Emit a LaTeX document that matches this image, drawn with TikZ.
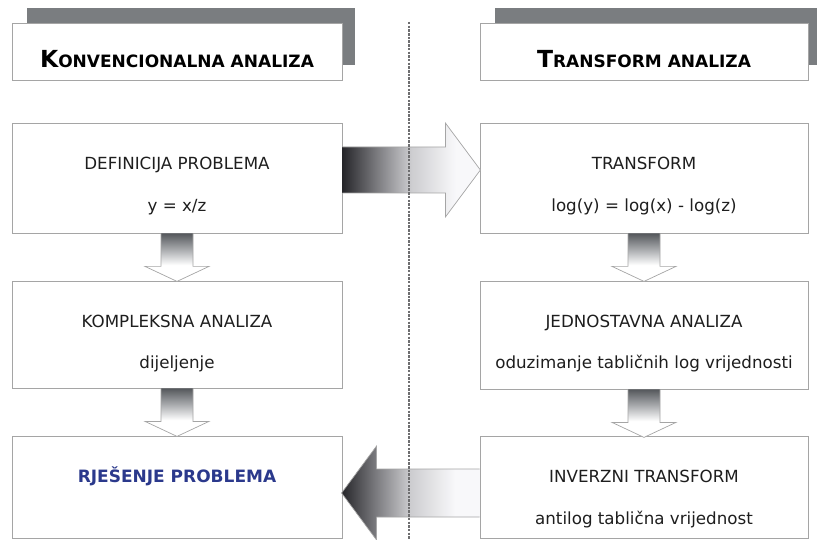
\documentclass[tikz,border=0pt]{standalone}
\usepackage{fontspec}
\setmainfont{DejaVu Sans}
\usetikzlibrary{calc}
\definecolor{boxline}{RGB}{165,165,165}
\definecolor{shadowgray}{RGB}{122,125,128}
\definecolor{txt}{RGB}{30,30,30}
\definecolor{solblue}{RGB}{43,57,140}
\definecolor{hdark}{RGB}{38,38,42}
\definecolor{hmid}{RGB}{120,120,124}
\definecolor{hlight}{RGB}{205,205,208}
\definecolor{hwhite}{RGB}{248,248,250}
\definecolor{vdark}{RGB}{85,88,92}
\definecolor{vmid}{RGB}{170,172,175}
\definecolor{dashgray}{RGB}{110,110,112}
\pgfdeclarehorizontalshading{arrH}{100bp}{color(0bp)=(hdark); color(25bp)=(hdark); color(37bp)=(hmid); color(50bp)=(hlight); color(66bp)=(hwhite); color(100bp)=(hwhite)}
\pgfdeclareverticalshading{arrV}{100bp}{color(0bp)=(white); color(25bp)=(white); color(42bp)=(white); color(58bp)=(vmid); color(75bp)=(vdark); color(100bp)=(vdark)}
\tikzset{
  stepbox/.style={draw=boxline, line width=0.8pt, fill=white, minimum width=330pt, inner sep=0pt},
  hdrbox/.style={draw=boxline, line width=0.8pt, fill=white, minimum width=330pt, minimum height=57pt, inner sep=0pt},
  shadowbox/.style={fill=shadowgray, draw=none, minimum width=328pt, minimum height=57pt, inner sep=0pt},
  lbl/.style={text=txt, font=\fontsize{16.7}{18}\selectfont, inner sep=0pt, anchor=base},
  hdrtxt/.style={text=black, font=\bfseries, inner sep=0pt, anchor=base},
  fatH/.style={shading=arrH, draw=boxline, line width=0.7pt},
  fatV/.style={shading=arrV, draw=boxline, line width=0.7pt},
}
\newcommand{\hsc}[2]{{\fontsize{23.5}{23}\selectfont #1}{\fontsize{17}{18}\selectfont #2}}
\begin{document}
\begin{tikzpicture}[x=1pt,y=-1pt]
\useasboundingbox (0,0) rectangle (817,540);
% headers
\node[shadowbox] (ls) at (191,36.5) {};
\node[hdrbox] (lh) at (177,51.5) {};
\node[hdrtxt] (lht) at (177,68) {\hsc{K}{ONVENCIONALNA ANALIZA}};
\node[shadowbox, minimum width=322pt] (rs) at (656,36.5) {};
\node[hdrbox, minimum width=328pt] (rh) at (644,51.5) {};
\node[hdrtxt] (rht) at (644,68) {\hsc{T}{RANSFORM ANALIZA}};
% left column
\node[stepbox, minimum height=110pt] (d1) at (177,178) {};
\node[stepbox, minimum height=107pt] (d2) at (177,334.5) {};
\node[stepbox, minimum height=102pt] (d3) at (177,487) {};
% right column
\node[stepbox, minimum width=328pt, minimum height=110pt] (r1) at (644,178) {};
\node[stepbox, minimum width=328pt, minimum height=108pt] (r2) at (644,335) {};
\node[stepbox, minimum width=328pt, minimum height=102pt] (r3) at (644,487) {};
% labels
\node[lbl] (d1a) at ($(d1.north)+(0,47)$) {DEFINICIJA PROBLEMA};
\node[lbl] (d1b) at ($(d1.north)+(0,89)$) {y = x/z};
\node[lbl] (d2a) at ($(d2.north)+(0,47)$) {KOMPLEKSNA ANALIZA};
\node[lbl] (d2b) at ($(d2.north)+(0,88)$) {dijeljenje};
\node[lbl, text=solblue, font=\bfseries\fontsize{17}{18}\selectfont] (d3a) at ($(d3.north)+(0,47)$) {RJEŠENJE PROBLEMA};
\node[lbl] (r1a) at ($(r1.north)+(0,47)$) {TRANSFORM};
\node[lbl] (r1b) at ($(r1.north)+(0,89)$) {log(y) = log(x) - log(z)};
\node[lbl] (r2a) at ($(r2.north)+(0,47)$) {JEDNOSTAVNA ANALIZA};
\node[lbl] (r2b) at ($(r2.north)+(0,88)$) {oduzimanje tabličnih log vrijednosti};
\node[lbl] (r3a) at ($(r3.north)+(0,47)$) {INVERZNI TRANSFORM};
\node[lbl] (r3b) at ($(r3.north)+(0,89)$) {antilog tablična vrijednost};
% horizontal arrows
\begin{scope}[shift={($(d1.east)+(0,-8)$)}]
\shade[fatH] (0,-23) -- (103,-23) -- (103,-47) -- (138,0) -- (103,47) -- (103,23) -- (0,23);
\end{scope}
\begin{scope}[shift={($(r3.west)+(0,6)$)}]
\shade[fatH] (0,-24) -- (-103,-24) -- (-103,-47) -- (-138,0) -- (-103,47) -- (-103,24) -- (0,24);
\end{scope}
% vertical arrows
\foreach \n in {d1,d2,r1,r2}{
\begin{scope}[shift={(\n.south)}]
\shade[fatV] (-16,0) -- (-16,33) -- (-32,33) -- (0,48) -- (32,33) -- (16,33) -- (16,0);
\end{scope}
}
% divider
\coordinate (dtop) at (409,22);
\coordinate (dbot) at (409,540);
\draw[dashgray, line width=1.1pt, dash pattern=on 2.5pt off 1.2pt] (dtop) -- (dbot);
\end{tikzpicture}
\end{document}
